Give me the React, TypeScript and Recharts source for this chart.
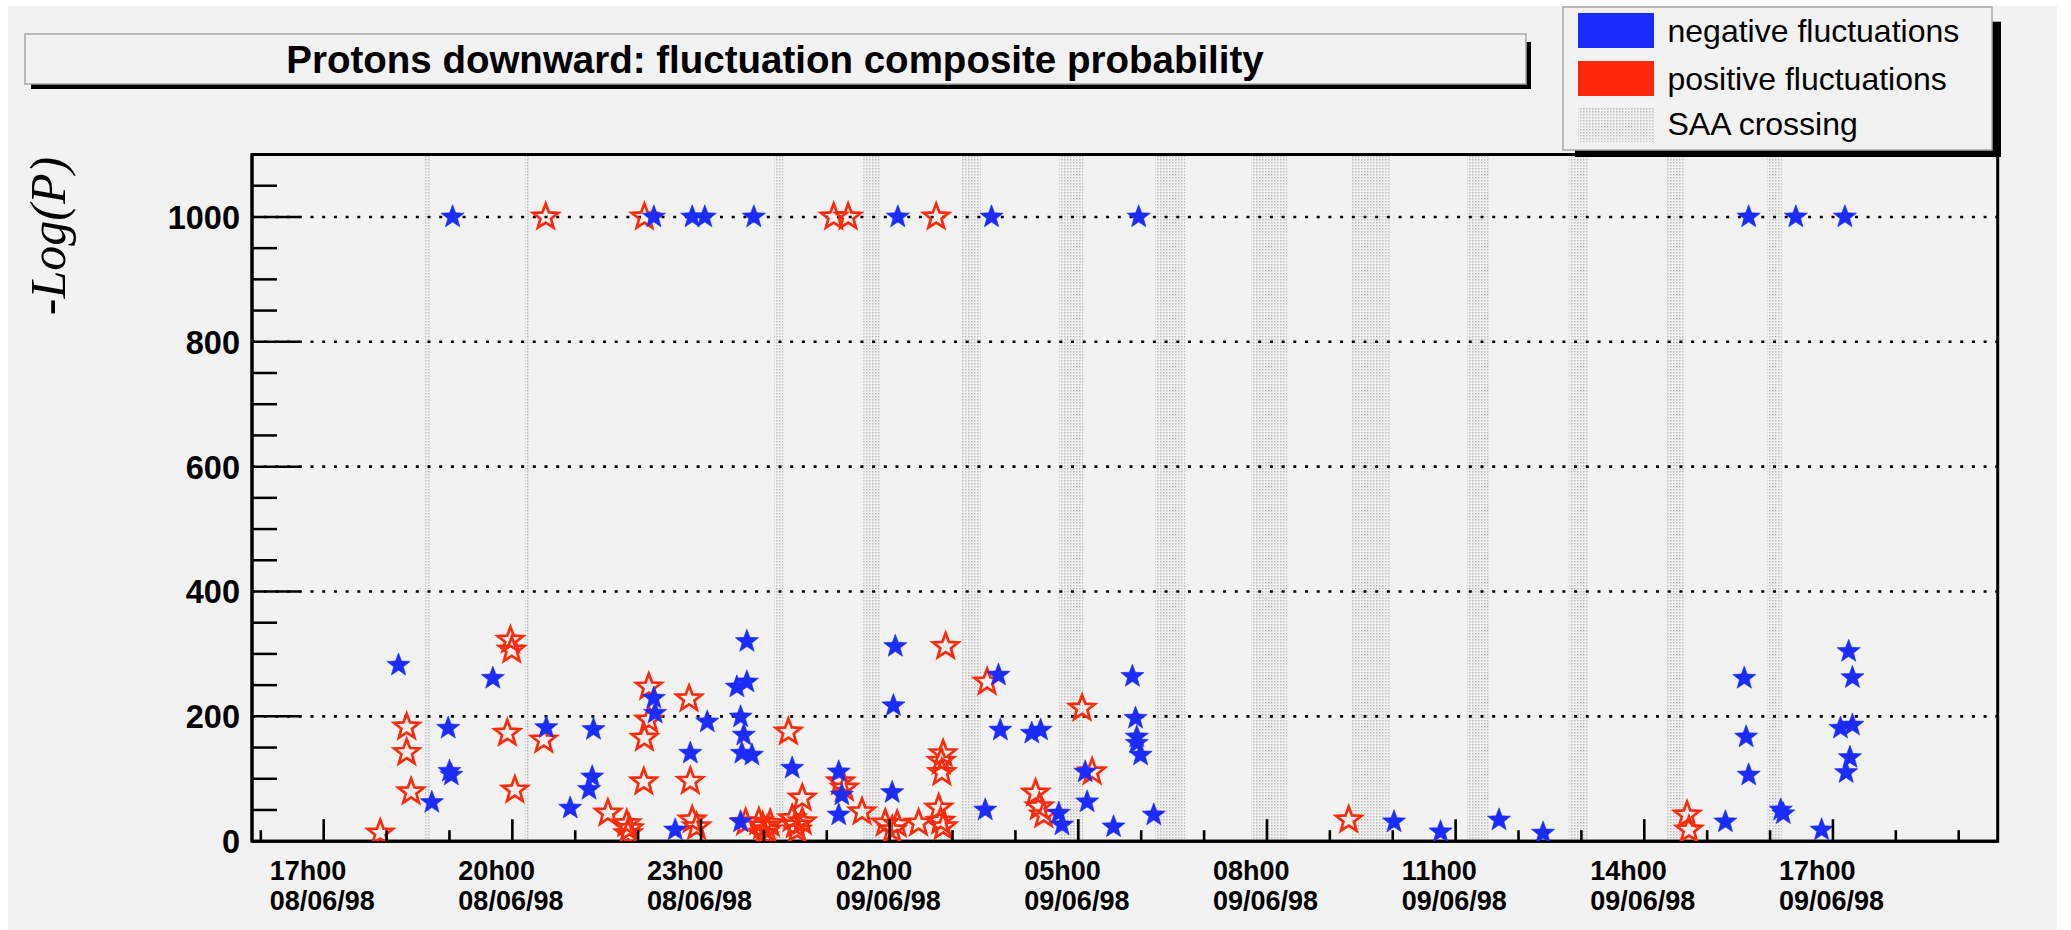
import React from 'react';
import { ScatterChart, Scatter, XAxis, YAxis, ReferenceArea, ReferenceLine } from 'recharts';

const BLUE = '#1b2cff';
const RED = '#ff2a0a';
const BG = '#f2f2f2';
const SANS = '"Liberation Sans", Arial, Helvetica, sans-serif';

// hours relative to 17h00 08/06/98
const negHours = [
  2.05, 5.25, 5.86, 6.06, 6.84, 9.13, 10.62, 12.96, 22.66, 23.41, 24.19,
  1.19, 1.72, 1.98, 2.0, 2.03, 2.69, 3.54, 3.92, 4.22, 4.27, 4.29, 5.25, 5.27, 5.59, 5.83,
  6.1, 6.57, 6.63, 6.63, 6.65, 6.68, 6.73, 6.73, 6.81, 7.45, 8.19, 8.24, 8.19, 9.04, 9.06, 9.09,
  10.52, 10.73, 10.76, 11.26, 11.4, 11.69, 11.74, 12.11, 12.14, 12.56, 12.86, 12.91, 12.93, 12.93,
  12.99, 13.2, 17.02, 17.76, 18.69, 19.39, 22.29, 22.59, 22.62, 22.66, 23.17, 23.21, 23.82,
  24.12, 24.21, 24.25, 24.27, 24.31, 24.31,
];
const negValues = [
  1000, 1000, 1000, 1000, 1000, 1000, 1000, 1000, 1000, 1000, 1000,
  282, 62, 181, 112, 106, 261, 182, 53, 83, 103, 179, 229, 205, 18, 141,
  191, 247, 199, 31, 141, 170, 320, 255, 138, 117, 111, 74, 42, 78, 217, 312,
  50, 266, 178, 173, 178, 45, 26, 111, 63, 23, 264, 197, 167, 157,
  138, 42, 31, 15, 34, 13, 31, 261, 167, 106, 50, 44, 18,
  181, 110, 304, 134, 262, 186,
];

const posHours = [
  3.53, 5.1, 8.11, 8.34, 9.74,
  0.9, 1.32, 1.32, 1.39, 2.92, 2.97, 2.99, 3.04, 3.5, 4.52, 4.82, 4.86, 4.84, 5.09, 5.1, 5.17, 5.17,
  5.81, 5.83, 5.86, 5.93, 6.71, 6.92, 7.0, 7.05, 7.1, 6.98, 7.39, 7.45, 7.53, 7.61, 7.61, 7.5,
  8.22, 8.28, 8.56, 8.93, 9.04, 9.12, 9.46, 9.78, 9.81, 9.85, 9.85, 9.82, 9.83, 9.89, 10.55,
  11.32, 11.38, 11.45, 12.06, 12.22, 16.3, 21.68, 21.71,
];
const posValues = [
  1000, 1000, 1000, 1000, 1000,
  13, 183, 142, 79, 173, 322, 306, 82, 162, 45, 28, 20, 12, 95, 165, 194, 247,
  228, 96, 34, 23, 30, 31, 13, 18, 28, 24, 175, 36, 18, 31, 69, 26,
  95, 85, 47, 29, 18, 27, 29, 53, 32, 23, 140, 128, 110, 312, 255,
  77, 55, 42, 213, 111, 34, 42, 18,
];

// SAA crossings (hours relative to 17h00 08/06/98)
const saaStart = [1.6, 3.2, 7.16, 8.58, 10.14, 11.69, 13.22, 14.75, 16.35, 18.18, 19.8, 21.36, 22.95];
const saaEnd = [1.69, 3.27, 7.31, 8.86, 10.45, 12.08, 13.7, 15.32, 16.96, 18.53, 20.11, 21.65, 23.19];

const xDomain = [-1.14, 26.62];
const xTickHours = Array.from({ length: 28 }, (_, i) => i - 1);
const xLabelHours = [0, 3, 6, 9, 12, 15, 18, 21, 24];
const xLabelTimes = ['17h00', '20h00', '23h00', '02h00', '05h00', '08h00', '11h00', '14h00', '17h00'];
const xLabelDates = ['08/06/98', '08/06/98', '08/06/98', '09/06/98', '09/06/98', '09/06/98', '09/06/98', '09/06/98', '09/06/98'];

const yDomain = [0, 1100];
const yTicks = Array.from({ length: 22 }, (_, i) => i * 50);
const yGridValues = [200, 400, 600, 800, 1000];

const legendLabels = ['negative fluctuations', 'positive fluctuations', 'SAA crossing'];
const titleText = 'Protons downward: fluctuation composite probability';
const yAxisTitle = '-Log(P)';

const negData = negHours.map((h, i) => ({ x: h, y: negValues[i] }));
const posData = posHours.map((h, i) => ({ x: h, y: posValues[i] }));

function starPath(cx: number, cy: number, r: number, ratio: number) {
  let d = '';
  for (let i = 0; i < 10; i++) {
    const ang = -Math.PI / 2 + (i * Math.PI) / 5;
    const rr = i % 2 === 0 ? r : r * ratio;
    d += (i === 0 ? 'M' : 'L') + (cx + rr * Math.cos(ang)).toFixed(2) + ',' + (cy + rr * Math.sin(ang)).toFixed(2);
  }
  return d + 'Z';
}

const BlueStar = (p: any) => {
  if (p.cx == null || p.cy == null) return <g />;
  return <path d={starPath(p.cx, p.cy, 12.2, 0.42)} fill={BLUE} stroke={BLUE} strokeWidth={0.6} />;
};
const RedStar = (p: any) => {
  if (p.cx == null || p.cy == null) return <g />;
  return <path d={starPath(p.cx, p.cy, 13.3, 0.42)} fill="none" stroke={RED} strokeWidth={2.7} strokeLinejoin="miter" />;
};

const XTick = (props: any) => {
  const { x, y, payload } = props;
  const h = payload.value;
  const major = ((h % 3) + 3) % 3 === 0;
  const idx = xLabelHours.indexOf(h);
  return (
    <g>
      <line x1={x} x2={x} y1={y} y2={y - (major ? 22 : 11)} stroke="#000" strokeWidth={2.6} />
      {idx >= 0 && (
        <text fontFamily={SANS} fontWeight="bold" fontSize={27} fill="#000" textAnchor="start">
          <tspan x={x - 54} y={y + 39}>{xLabelTimes[idx]}</tspan>
          <tspan x={x - 54} y={y + 69}>{xLabelDates[idx]}</tspan>
        </text>
      )}
    </g>
  );
};

const YTick = (props: any) => {
  const { x, y, payload } = props;
  const v = payload.value;
  const major = v % 200 === 0;
  return (
    <g>
      {v > 0 && <line x1={x} x2={x + (major ? 48 : 25)} y1={y} y2={y} stroke="#000" strokeWidth={2.5} />}
      {major && (
        <text x={x - 12} y={y + 12} textAnchor="end" fontFamily={SANS} fontWeight="bold" fontSize={32.5} fill="#000">
          {v}
        </text>
      )}
    </g>
  );
};

export default function App() {
  const W = 2049;
  const H = 924;
  return (
    <div style={{ position: 'absolute', left: 8, top: 6, width: W, height: H, background: BG, overflow: 'hidden' }}>
      <svg width={0} height={0} style={{ position: 'absolute' }}>
        <defs>
          <pattern id="saaDots" width={3} height={3} patternUnits="userSpaceOnUse">
            <rect x={0} y={0} width={1.5} height={1.5} fill="#bcbcbc" />
          </pattern>
        </defs>
      </svg>
      <div style={{ position: 'absolute', left: 0, top: 0 }}>
        <ScatterChart width={W} height={H} margin={{ top: 148.5, right: 59.3, bottom: 8.8, left: 184 }}>
          <XAxis
            type="number"
            dataKey="x"
            domain={xDomain}
            allowDataOverflow
            ticks={xTickHours}
            interval={0}
            tickSize={0}
            tickMargin={0}
            tickLine={false}
            axisLine={{ stroke: '#000', strokeWidth: 3 }}
            height={80}
            tick={(p: any) => <XTick {...p} />}
          />
          <YAxis
            type="number"
            dataKey="y"
            domain={yDomain}
            allowDataOverflow
            ticks={yTicks}
            interval={0}
            tickSize={0}
            tickMargin={0}
            tickLine={false}
            axisLine={{ stroke: '#000', strokeWidth: 3 }}
            width={60}
            tick={(p: any) => <YTick {...p} />}
          />
          {saaStart.map((s, i) => (
            <ReferenceArea key={'saa' + i} x1={s} x2={saaEnd[i]} y1={yDomain[0]} y2={yDomain[1]} fill="url(#saaDots)" fillOpacity={1} stroke="none" />
          ))}
          {yGridValues.map((v) => (
            <ReferenceLine key={'g' + v} y={v} stroke="#000" strokeWidth={2.6} strokeDasharray="3 8.7" />
          ))}
          <Scatter data={posData} shape={(p: any) => <RedStar {...p} />} isAnimationActive={false} />
          <Scatter data={negData} shape={(p: any) => <BlueStar {...p} />} isAnimationActive={false} />
          <ReferenceArea x1={xDomain[0]} x2={xDomain[1]} y1={yDomain[0]} y2={yDomain[1]} fill="none" stroke="#000" strokeWidth={3} />
        </ScatterChart>
      </div>
      <svg width={W} height={H} style={{ position: 'absolute', left: 0, top: 0, pointerEvents: 'none' }}>
        {/* title */}
        <rect x={23} y={78} width={1500} height={5} fill="#000" />
        <rect x={1518} y={36} width={5} height={47} fill="#000" />
        <rect x={17} y={28} width={1501} height={50} fill={BG} stroke="#a8a8a8" strokeWidth={1.5} />
        <text x={767} y={67.3} textAnchor="middle" fontFamily={SANS} fontWeight="bold" fontSize={38.5} fill="#000">
          {titleText}
        </text>
        {/* y axis title */}
        <text x={57} y={230} transform="rotate(-90 57 230)" textAnchor="middle" fontFamily='"Liberation Serif", "Times New Roman", serif' fontStyle="italic" fontSize={50} fill="#000">
          {yAxisTitle}
        </text>
        {/* legend */}
        <rect x={1567} y={144} width={426} height={7} fill="#000" />
        <rect x={1984} y={15.7} width={9} height={135.3} fill="#000" />
        <rect x={1555} y={1} width={429} height={143} fill={BG} stroke="#a8a8a8" strokeWidth={1.5} />
        <rect x={1570} y={7} width={76} height={35} fill={BLUE} />
        <rect x={1570} y={55} width={76} height={35} fill={RED} />
        <rect x={1570} y={102} width={76} height={34} fill="url(#saaDots)" />
        <text x={1659.5} y={35.7} fontFamily={SANS} fontSize={32} fill="#000">{legendLabels[0]}</text>
        <text x={1659.5} y={84} fontFamily={SANS} fontSize={32} fill="#000">{legendLabels[1]}</text>
        <text x={1659.5} y={129} fontFamily={SANS} fontSize={32} fill="#000">{legendLabels[2]}</text>
      </svg>
    </div>
  );
}
